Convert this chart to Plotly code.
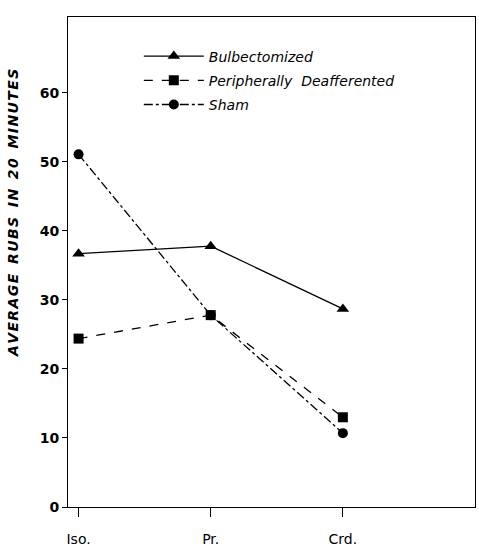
import plotly.graph_objects as go

categories = ["Iso.", "Pr.", "Crd."]
bulbectomized = [36.7, 37.8, 28.7]
peripheral = [24.4, 27.8, 13.0]
sham = [51.1, 27.8, 10.7]
y_ticks = [0, 10, 20, 30, 40, 50, 60]
y_title = "AVERAGE  RUBS  IN  20  MINUTES"

xpos = list(range(len(categories)))
hs = "\u200a"
spaced_title = "  ".join(hs.join(w) for w in y_title.split("  "))

fig = go.Figure()
fig.add_trace(go.Scatter(x=xpos, y=bulbectomized, name="Bulbectomized", mode="lines+markers",
                         legendgroup="a",
                         line=dict(color="black", width=1.3, dash="solid"),
                         marker=dict(symbol="triangle-up", size=11, color="black")))
fig.add_trace(go.Scatter(x=xpos, y=peripheral, name="Peripherally  Deafferented", mode="lines+markers",
                         legendgroup="b",
                         line=dict(color="black", width=1.3, dash="dash"),
                         marker=dict(symbol="square", size=10, color="black")))
fig.add_trace(go.Scatter(x=xpos, y=sham, name="Sham", mode="lines+markers",
                         legendgroup="c",
                         line=dict(color="black", width=1.3, dash="dashdot"),
                         marker=dict(symbol="circle", size=10, color="black")))

fig.add_annotation(text=spaced_title, xref="paper", yref="paper", x=-0.135, y=0.60,
                   xanchor="center", yanchor="middle", textangle=-90, showarrow=False,
                   font=dict(family="DejaVu Sans", size=14, weight="bold", style="italic", color="black"))

fig.update_layout(
    width=479, height=559,
    margin=dict(l=68, r=4, t=17, b=52),
    paper_bgcolor="white", plot_bgcolor="white",
    font=dict(family="DejaVu Sans", color="black", size=13),
    showlegend=True,
    legend=dict(x=0.174, y=0.952, xanchor="left", yanchor="top",
                bgcolor="rgba(0,0,0,0)", borderwidth=0,
                font=dict(family="DejaVu Sans", size=14, style="italic"),
                itemwidth=60, tracegroupgap=3),
    xaxis=dict(range=[-0.08, 3.0], tickmode="array", tickvals=xpos, ticktext=categories,
               showgrid=False, zeroline=False, showline=True, linecolor="black", linewidth=1,
               mirror=True, ticks="outside", ticklen=9, tickcolor="black",
               ticklabelstandoff=10,
               tickfont=dict(family="DejaVu Sans", size=14)),
    yaxis=dict(range=[0, 71], tickmode="array", tickvals=y_ticks,
               showgrid=False, zeroline=False, showline=True, linecolor="black", linewidth=1,
               mirror=True, ticks="outside", ticklen=5, tickcolor="black",
               tickfont=dict(family="DejaVu Sans", size=14, weight="bold")),
)

fig.write_html("out.html")
